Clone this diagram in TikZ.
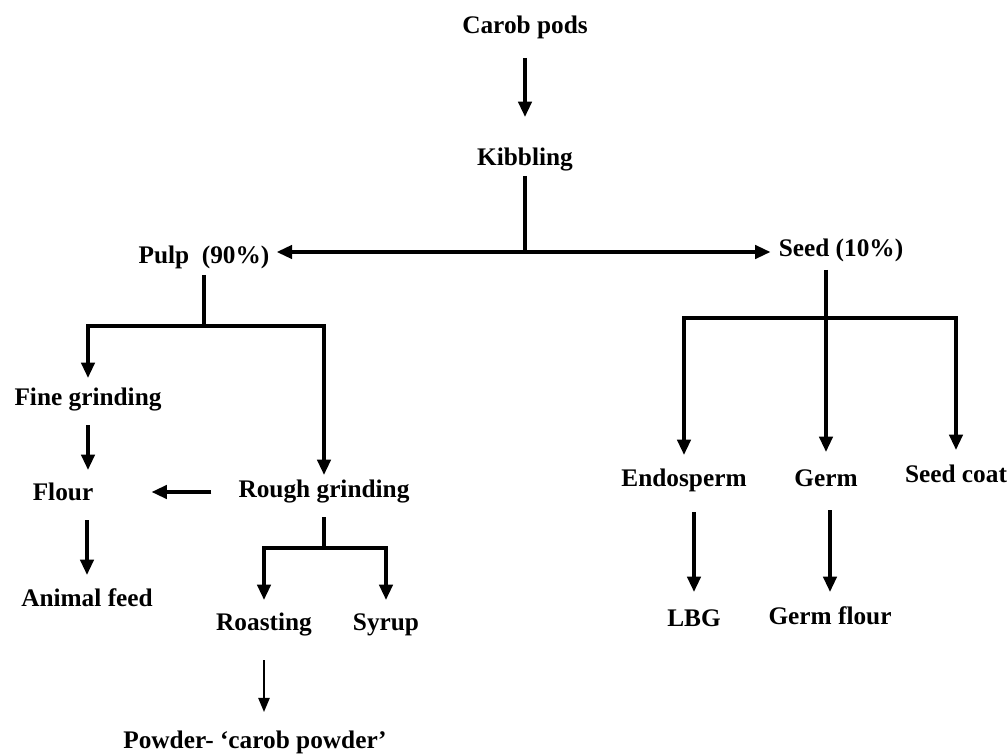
\documentclass[tikz,border=0pt]{standalone}
\usepackage{fontspec}
\setmainfont{Liberation Serif}
\usetikzlibrary{arrows.meta,calc,positioning}

\begin{document}
\begin{tikzpicture}[x=0.025cm, y=0.025cm,
    txt/.style={font=\fontsize{18}{21}\selectfont\bfseries, inner sep=0pt},
    arr/.style={line width=2.5pt, -{Triangle[length=11pt,width=9.5pt]}},
    thinarr/.style={line width=1.2pt, -{Triangle[length=10pt,width=8pt]}},
    bar/.style={line width=2.5pt}]

    \useasboundingbox (0,0) rectangle (1007,-754);

    \node[txt] at (525,-27) (Pods) {Carob pods};
    \node[txt] at (525,-160) (Kib) {Kibbling};
    \node[txt] at (204,-257) (Pulp) {Pulp\ \ (90\%)};
    \node[txt] at (841,-250) (Seed) {Seed (10\%)};

    \node[txt] at (88,-400) (Fine) {Fine grinding};
    \node[txt] at (324,-492) (Rough) {Rough grinding};
    \node[txt] at (63,-492) (Flour) {Flour};
    \node[txt] at (87,-598) (Feed) {Animal feed};
    \node[txt] at (264,-625) (Roast) {Roasting};
    \node[txt] at (386,-625) (Syrup) {Syrup};
    \node[txt] at (255,-742) (Powder) {Powder- ‘carob powder’};

    \node[txt] at (684,-480) (Endo) {Endosperm};
    \node[txt] at (826,-478) (Germ) {Germ};
    \node[txt] at (956,-474) (Coat) {Seed coat};
    \node[txt] at (694,-618) (LBG) {LBG};
    \node[txt] at (830,-616) (GFlour) {Germ flour};

    \draw[arr] (Pods |- 0,-58) -- (Kib |- 0,-117);

    \draw[bar] (Kib |- 0,-176) -- (Kib |- 0,-252) coordinate (KJ);
    \draw[arr] (KJ) -- ($(KJ -| Pulp.east)+(7,0)$);
    \draw[arr] (KJ) -- ($(KJ -| Seed.west)+(-8,0)$);

    \draw[bar] (Pulp |- 0,-275) -- (Pulp |- 0,-326) coordinate (PJ);
    \draw[arr] (PJ) -| (Fine |- 0,-378);
    \draw[arr] (PJ) -| (Rough |- 0,-475);
    \draw[arr] (Fine |- 0,-425) -- (Fine |- 0,-470);
    \draw[arr] ($(Rough.west)+(-27,0)$) -- ($(Flour.east)+(58,0)$);
    \draw[arr] (Feed |- 0,-520) -- (Feed |- 0,-575);

    \draw[bar] (Rough |- 0,-517) -- (Rough |- 0,-548) coordinate (RJ);
    \draw[arr] (RJ) -| (Roast |- 0,-600);
    \draw[arr] (RJ) -| (Syrup |- 0,-600);
    \draw[thinarr] (Roast |- 0,-660) -- (Roast |- 0,-712);

    \coordinate (SJ) at (Germ |- 0,-318);
    \draw[bar] ($(SJ |- Seed.south)+(0,-8)$) -- (SJ);
    \draw[arr] (SJ) -| (Endo |- 0,-455);
    \draw[arr] (SJ) -- (Germ |- 0,-452);
    \draw[arr] (SJ) -| (Coat |- 0,-450);
    \draw[arr] (LBG |- 0,-512) -- (LBG |- 0,-592);
    \draw[arr] (GFlour |- 0,-510) -- (GFlour |- 0,-592);
\end{tikzpicture}
\end{document}
